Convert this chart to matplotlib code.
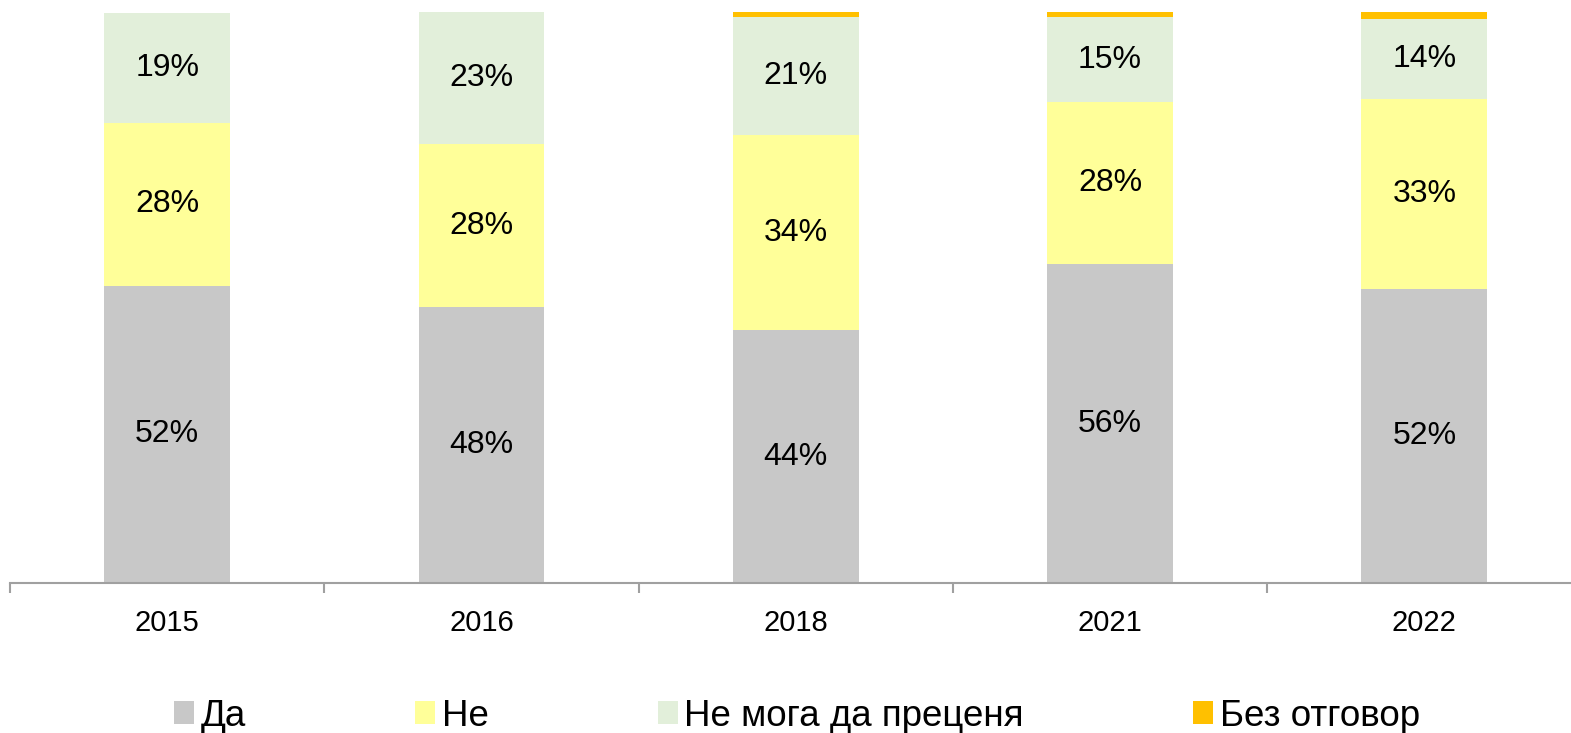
import matplotlib.pyplot as plt
import numpy as np

plt.rcParams['font.family'] = ['Liberation Sans', 'DejaVu Sans']

# Data (percent)
years = ['2015', '2016', '2018', '2021', '2022']
da = [52.1, 48.4, 44.3, 55.8, 51.5]
ne = [28.4, 28.4, 34.1, 28.4, 33.3]
ne_moga = [19.4, 23.2, 20.7, 14.9, 13.9]
bez = [0.0, 0.0, 0.9, 0.9, 1.3]

series = [('Да', da, '#C8C8C8'),
          ('Не', ne, '#FFFF99'),
          ('Не мога да преценя', ne_moga, '#E2EFDA'),
          ('Без отговор', bez, '#FFC000')]

W, H = 1571, 733
fig = plt.figure(figsize=(W / 100, H / 100), dpi=100)
ax = fig.add_axes([10 / W, 150 / H, 5 * 314.3 / W, 571 / H])

x = np.arange(len(years))
bottom = np.zeros(len(years))
for name, vals, color in series:
    vals = np.array(vals)
    ax.bar(x, vals, 0.4, bottom=bottom, color=color, label=name)
    if name != 'Без отговор':
        for xi, b, v in zip(x, bottom, vals):
            ax.text(xi, b + v / 2, f'{round(v)}%', ha='center', va='center',
                    fontsize=23, color='black')
    bottom += vals

ax.set_xlim(-0.5, 4.5)
ax.set_ylim(0, 100)
for s in ['left', 'top', 'right']:
    ax.spines[s].set_visible(False)
ax.spines['bottom'].set_color('#A0A0A0')
ax.spines['bottom'].set_linewidth(1.5)
ax.set_yticks([])
ax.set_xticks(x)
ax.set_xticklabels(years, fontsize=21)
ax.tick_params(axis='x', which='major', length=0, pad=19)
ax.set_xticks(np.arange(-0.5, 5, 1), minor=True)
ax.tick_params(axis='x', which='minor', length=7, width=1.5, color='#A0A0A0')

fig.legend(loc='center', bbox_to_anchor=(797 / W, 1 - 716 / H), ncol=4,
           frameon=False, fontsize=26.5, handlelength=0.55, handleheight=0.55,
           handletextpad=0.17, columnspacing=4.6, borderpad=0)

fig.savefig('out.png', dpi=100)
